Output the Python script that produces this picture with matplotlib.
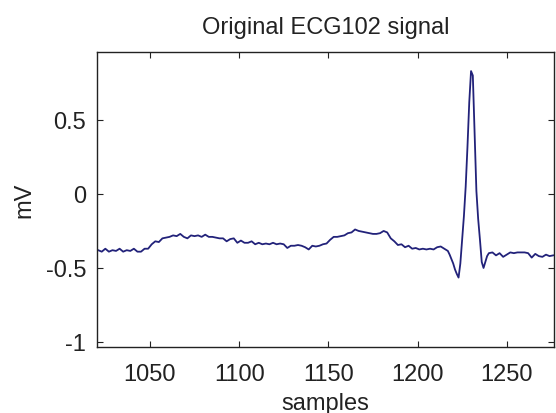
import matplotlib
matplotlib.use("Agg")
from matplotlib import pyplot as plt

# ECG102 samples (sample index, mV)
samples = [1021, 1023, 1025, 1027, 1029, 1031, 1033, 1035, 1037, 1039,
           1041, 1043, 1045, 1047, 1049, 1051, 1053, 1055, 1057, 1059,
           1061, 1063, 1065, 1067, 1069, 1071, 1073, 1075, 1077, 1079,
           1081, 1083, 1085, 1087, 1089, 1091, 1093, 1095, 1097, 1099,
           1101, 1103, 1105, 1107, 1109, 1111, 1113, 1115, 1117, 1119,
           1121, 1123, 1125, 1127, 1129, 1131, 1133, 1135, 1137, 1139,
           1141, 1143, 1145, 1147, 1149, 1151, 1153, 1155, 1157, 1159,
           1161, 1163, 1165, 1167, 1169, 1171, 1173, 1175, 1177, 1179,
           1181, 1183, 1185, 1187, 1189, 1191, 1193, 1195, 1197, 1199,
           1201, 1203, 1205, 1207, 1209, 1211, 1213, 1215, 1217, 1218,
           1219, 1220, 1221, 1222, 1223, 1224, 1225, 1226, 1227, 1228,
           1229, 1230, 1231, 1232, 1233, 1234, 1235, 1236, 1237, 1238,
           1239, 1240, 1242, 1244, 1246, 1248, 1250, 1252, 1254, 1256,
           1258, 1260, 1262, 1264, 1266, 1268, 1270, 1272, 1274, 1276]
mv = [-0.38, -0.39, -0.37, -0.39, -0.38, -0.385, -0.37, -0.39, -0.38, -0.385,
      -0.37, -0.39, -0.39, -0.37, -0.37, -0.34, -0.32, -0.325, -0.30, -0.295,
      -0.29, -0.28, -0.285, -0.27, -0.29, -0.30, -0.28, -0.285, -0.28, -0.29,
      -0.275, -0.29, -0.29, -0.295, -0.30, -0.30, -0.32, -0.305, -0.30, -0.33,
      -0.315, -0.33, -0.33, -0.32, -0.34, -0.33, -0.34, -0.335, -0.34, -0.33,
      -0.34, -0.335, -0.34, -0.365, -0.35, -0.35, -0.345, -0.35, -0.36, -0.375,
      -0.35, -0.355, -0.35, -0.34, -0.335, -0.31, -0.29, -0.29, -0.285, -0.28,
      -0.265, -0.26, -0.24, -0.25, -0.255, -0.26, -0.265, -0.27, -0.27, -0.265,
      -0.25, -0.26, -0.30, -0.32, -0.345, -0.34, -0.36, -0.35, -0.37, -0.365,
      -0.375, -0.37, -0.375, -0.37, -0.375, -0.36, -0.355, -0.37, -0.385, -0.41,
      -0.44, -0.47, -0.51, -0.54, -0.565, -0.47, -0.31, -0.15, 0.05, 0.32,
      0.62, 0.83, 0.80, 0.40, 0.02, -0.17, -0.31, -0.46, -0.50, -0.46,
      -0.42, -0.40, -0.395, -0.415, -0.40, -0.425, -0.41, -0.395, -0.40, -0.395,
      -0.395, -0.395, -0.40, -0.43, -0.405, -0.42, -0.425, -0.41, -0.42, -0.415]

xticks = [1050, 1100, 1150, 1200, 1250]
yticks = [-1, -0.5, 0, 0.5]
yticklabels = ["-1", "-0.5", "0", "0.5"]

plt.rcParams['font.family'] = ['Liberation Sans', 'DejaVu Sans']

fig = plt.figure(figsize=(5.56, 4.14), dpi=100)
ax = fig.add_axes([0.175, 0.1587, 0.8214, 0.7126])

ax.plot(samples, mv, color='#22227a', linewidth=1.3)

ax.set_xlim(1020.5, 1276.5)
ax.set_ylim(-1.036, 0.957)
ax.set_xticks(xticks)
ax.set_yticks(yticks)
ax.set_yticklabels(yticklabels)

ax.tick_params(direction='in', length=4, width=0.8, top=True, right=True,
               labelsize=17, colors='#222222')
ax.tick_params(axis='x', pad=11)
ax.tick_params(axis='y', pad=8)
for sp in ax.spines.values():
    sp.set_linewidth(1.0)
    sp.set_color('#222222')

ax.set_title("Original ECG102 signal", fontsize=17, pad=14, color='#222222')
ax.set_xlabel("samples", fontsize=17, color='#222222')
ax.set_ylabel("mV", fontsize=17, color='#222222')
ax.xaxis.set_label_coords(0.5, -0.152)
ax.yaxis.set_label_coords(-0.135, 0.5)

fig.savefig("out.png", dpi=100)
